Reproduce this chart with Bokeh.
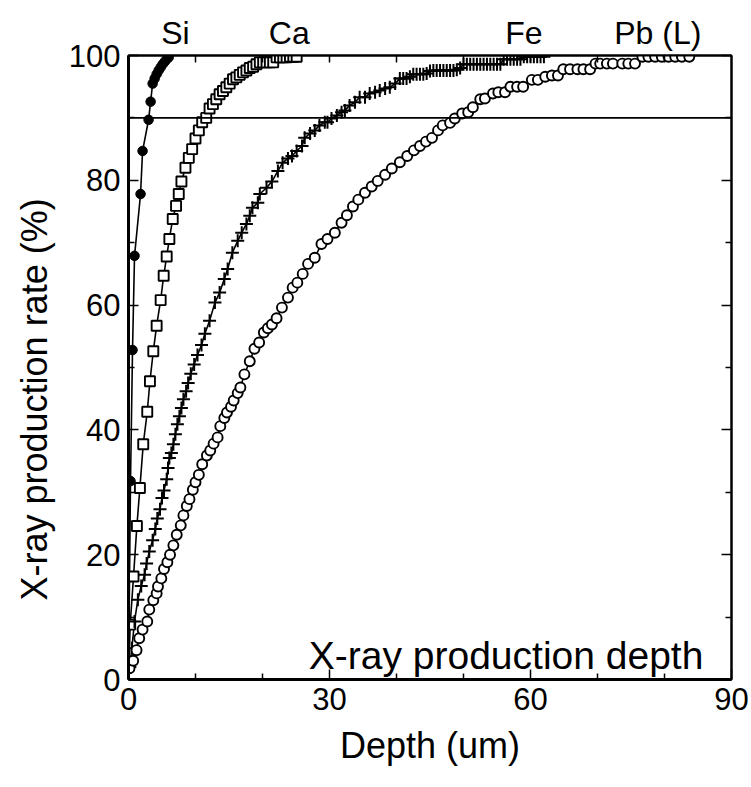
from bokeh.plotting import figure
from bokeh.models import LinearAxis, FixedTicker, Span, Label, Range1d, Title
from bokeh.embed import file_html
from bokeh.resources import INLINE

# ---------------- data ----------------
si_x = [0.3, 0.6, 0.9, 1.8, 2.1, 3.0, 3.3, 3.6, 3.9, 4.2, 4.5, 4.8, 5.1, 5.4, 5.7, 6.0]
si_y = [31.8, 52.8, 67.9, 77.8, 84.7, 89.7, 92.6, 95.5, 96.3, 97.0, 97.6, 98.1, 98.6, 99.0, 99.4, 99.7]

ca_x = [0.25, 0.75, 1.25, 1.7, 2.2, 2.8, 3.2, 3.7, 4.2, 4.8, 5.25, 5.7, 6.1, 6.6, 7.1, 7.5, 7.9,
        8.5, 9.0, 9.5, 10.0, 10.5, 11.0, 11.6, 12.1, 12.6, 13.1, 13.6, 14.1, 14.6, 15.1, 15.6,
        16.1, 16.6, 17.1, 17.6, 18.1, 18.6, 19.1, 19.6, 20.1, 20.6, 21.1, 21.6, 22.1, 22.6, 23.1,
        23.6, 24.1, 24.6, 25.1]
ca_y = [8.8, 16.5, 24.6, 30.7, 37.7, 42.9, 47.8, 52.6, 56.7, 60.8, 64.7, 67.8, 70.6, 73.8, 75.9,
        77.8, 79.8, 82.0, 83.6, 85.0, 86.7, 88.0, 89.3, 90.0, 91.5, 92.2, 93.0, 93.8, 94.3, 94.9,
        95.5, 96.2, 96.5, 96.9, 97.3, 97.6, 98.0, 98.2, 98.6, 98.9, 98.9, 98.9, 98.9, 98.9, 99.7,
        99.7, 99.7, 99.7, 99.8, 99.8, 99.8]

fe_x = [0.2, 0.5, 0.9, 1.4, 1.9, 2.4, 2.7, 3.1, 3.6, 4.0, 4.3, 4.7, 5.0, 5.3, 5.7, 5.9, 6.1, 6.4,
        6.7, 7.0, 7.3, 7.6, 7.9, 8.2, 8.6, 8.9, 9.3, 9.8, 10.3, 10.9, 11.4, 12.1, 12.9, 13.6, 14.3,
        14.8, 15.5, 16.3, 16.9, 17.6, 18.1, 18.5, 19.3, 19.6, 20.6, 21.4, 22.3, 23.0, 23.8, 24.4,
        25.1, 25.9, 26.3, 27.1, 27.8, 28.5, 29.3, 29.7, 30.3, 31.1, 31.8, 32.3, 33.0, 33.8, 34.5,
        35.3, 36.0, 36.8, 37.5, 38.3, 39.0, 39.8, 40.5, 41.0, 41.5, 42.0, 42.5, 43.0, 43.5, 44.0,
        44.5, 45.0, 45.5, 46.0, 46.5, 47.0, 47.5, 48.0, 48.5, 49.0, 49.5, 50.0, 50.5, 51.0, 51.5,
        52.0, 52.5, 53.0, 53.5, 54.0, 54.5, 55.0, 55.5, 56.0, 56.5, 57.0, 57.5, 58.0, 58.5, 59.0,
        59.5, 60.0, 60.5, 61.0, 61.5, 62.0]
fe_y = [2.0, 5.0, 9.3, 12.8, 15.0, 16.8, 18.6, 20.5, 22.3, 24.1, 25.8, 27.3, 29.1, 30.3, 32.1,
        33.9, 35.5, 36.3, 37.7, 39.3, 40.9, 42.2, 43.5, 44.9, 46.2, 47.5, 49.0, 50.5, 52.0, 53.6,
        55.4, 57.5, 60.4, 62.0, 64.2, 65.8, 68.4, 70.3, 71.6, 73.0, 74.3, 75.6, 76.4, 77.8, 78.8,
        79.8, 81.5, 82.8, 83.5, 83.9, 84.7, 85.5, 86.8, 87.5, 88.0, 88.8, 89.3, 89.3, 89.9, 90.4,
        90.9, 91.2, 92.0, 92.5, 93.3, 93.3, 93.9, 94.1, 94.4, 94.7, 94.9, 95.5, 96.3, 96.3, 96.3,
        96.6, 97.0, 97.0, 97.0, 97.0, 97.1, 97.5, 97.6, 97.6, 97.6, 97.6, 97.6, 97.6, 97.6, 97.7,
        98.0, 98.6, 98.6, 98.6, 98.6, 98.6, 98.6, 98.6, 98.6, 98.6, 98.6, 98.6, 98.6, 99.4, 99.4,
        99.4, 99.4, 99.4, 99.4, 99.8, 99.8, 99.8, 99.8, 99.8, 99.8, 99.8]

pb_x = [0.15, 0.7, 1.2, 1.6, 2.1, 2.8, 3.1, 3.7, 4.2, 4.4, 4.9, 5.3, 5.8, 6.2, 6.7, 7.2, 7.8, 8.2,
        8.7, 9.1, 9.6, 10.0, 10.5, 11.0, 11.7, 12.2, 12.7, 13.3, 13.7, 14.3, 14.7, 15.3, 15.7, 16.3,
        16.7, 17.3, 18.1, 18.8, 19.5, 20.2, 20.8, 21.4, 22.1, 22.9, 23.8, 24.5, 25.2, 26.0, 26.8,
        27.8, 28.8, 29.7, 30.8, 31.8, 32.6, 33.5, 34.3, 35.3, 36.3, 37.2, 38.3, 39.3, 40.5, 41.6,
        42.6, 43.5, 44.4, 45.3, 46.2, 46.9, 48.0, 48.7, 49.8, 50.7, 51.4, 52.5, 53.2, 54.4, 55.2,
        56.2, 57.0, 58.0, 58.9, 60.2, 61.1, 62.2, 63.2, 64.1, 64.9, 65.9, 67.0, 67.9, 68.9, 69.7,
        70.4, 71.4, 72.3, 73.7, 74.6, 75.6, 76.7, 77.6, 78.6, 79.6, 80.6, 81.6, 82.6, 83.7]
pb_y = [1.8, 3.0, 4.7, 6.6, 8.0, 9.3, 11.2, 12.7, 13.8, 14.9, 16.2, 17.7, 18.8, 20.0, 21.5, 23.2,
        24.7, 26.3, 27.8, 28.9, 30.4, 31.6, 32.8, 34.5, 35.9, 36.7, 37.8, 38.8, 40.6, 41.9, 42.8,
        43.7, 44.7, 45.9, 46.8, 48.9, 51.0, 53.0, 54.0, 55.6, 56.3, 56.9, 57.9, 59.6, 61.2, 62.8,
        63.6, 65.0, 66.6, 67.6, 69.8, 70.6, 71.6, 73.2, 74.4, 75.8, 76.9, 78.0, 79.0, 79.9, 80.9,
        81.9, 82.9, 83.9, 84.8, 85.5, 86.2, 86.8, 88.0, 88.8, 89.2, 89.9, 90.7, 90.9, 91.7, 93.0,
        93.1, 93.9, 94.1, 94.1, 95.0, 95.0, 95.0, 96.1, 96.1, 96.6, 96.8, 96.8, 97.8, 97.8, 97.8,
        97.8, 97.8, 98.7, 98.7, 98.7, 98.7, 98.7, 98.7, 98.7, 99.8, 99.8, 99.8, 99.8, 99.8, 99.8,
        99.8, 99.8]

element_labels = ["Si", "Ca", "Fe", "Pb (L)"]
element_label_x = [7, 24, 59, 79]
x_ticks = [0, 30, 60, 90]
x_minor = [10, 20, 40, 50, 70, 80]
top_minor = [10, 20, 30, 40, 50, 60, 70, 80]
y_ticks = [0, 20, 40, 60, 80, 100]
y_minor = [10, 30, 50, 70, 90]

FONT = "Liberation Sans"

p = figure(width=751, height=787, output_backend="svg", toolbar_location=None,
           x_range=Range1d(0, 90), y_range=Range1d(0, 100),
           min_border_left=128, min_border_right=20, min_border_top=55, min_border_bottom=108,
           x_axis_label="Depth (um)")
p.grid.visible = False
p.outline_line_color = "black"
p.outline_line_width = 2
p.background_fill_color = "white"
p.border_fill_color = "white"


def style_axis(ax, ticks, minor, width, labels=True):
    ax.ticker = FixedTicker(ticks=ticks, minor_ticks=minor)
    ax.axis_line_width = width
    ax.axis_line_color = "black"
    ax.major_tick_in = 10
    ax.major_tick_out = 0
    ax.minor_tick_in = 6
    ax.minor_tick_out = 0
    ax.major_tick_line_width = 1.5
    ax.minor_tick_line_width = 1.5
    ax.major_label_text_font = FONT
    ax.major_label_text_font_size = "31px"
    ax.major_label_text_color = "black"
    ax.major_label_standoff = 8
    ax.axis_label_text_font = FONT
    ax.axis_label_text_font_size = "36px"
    ax.axis_label_text_font_style = "normal"
    ax.axis_label_text_color = "black"
    if not labels:
        ax.major_label_overrides = {t: "" for t in ticks}


style_axis(p.xaxis[0], x_ticks, x_minor, 3)
style_axis(p.yaxis[0], y_ticks, y_minor, 3)
p.xaxis[0].axis_label_standoff = 12

# y-axis title as a left-side Title so it can sit slightly below the frame centre
p.add_layout(Title(text="X-ray production rate (%)", align="left", offset=79,
                   text_font=FONT, text_font_size="36px", text_font_style="normal",
                   text_color="black", standoff=22), "left")

# top axis: minor ticks mark the depth grid, "major" ticks carry the element names
top = LinearAxis()
style_axis(top, element_label_x, top_minor, 2)
top.major_tick_in = 0
top.minor_tick_in = 7
top.major_label_standoff = 5
top.major_label_text_font_size = "32px"
top.major_label_overrides = {v: t for v, t in zip(element_label_x, element_labels)}
p.add_layout(top, "above")

right = LinearAxis()
style_axis(right, y_ticks, y_minor, 2, labels=False)
p.add_layout(right, "right")

p.add_layout(Span(location=90, dimension="width", line_color="black", line_width=1.6))

LW = 1.6
p.line([0.0] + si_x, [0.0] + si_y, line_color="black", line_width=LW)
p.line([0.0] + ca_x, [0.0] + ca_y, line_color="black", line_width=LW)
p.line([0.0] + fe_x, [0.0] + fe_y, line_color="black", line_width=LW)
p.line([0.0] + pb_x, [0.0] + pb_y, line_color="black", line_width=LW)

p.scatter(si_x, si_y, marker="circle", size=9.5, fill_color="black", line_color="black")
p.scatter(ca_x, ca_y, marker="square", size=10, fill_color="white", line_color="black", line_width=1.9)
p.scatter(fe_x, fe_y, marker="cross", size=13, line_color="black", line_width=2)
p.scatter(pb_x, pb_y, marker="circle", size=10, fill_color="white", line_color="black", line_width=1.9)

p.add_layout(Label(x=85.8, y=3.9, text="X-ray production depth", text_align="right",
                   text_baseline="middle", text_font=FONT, text_font_size="39px", text_color="black"))

open("out.html", "w").write(file_html(p, INLINE))
